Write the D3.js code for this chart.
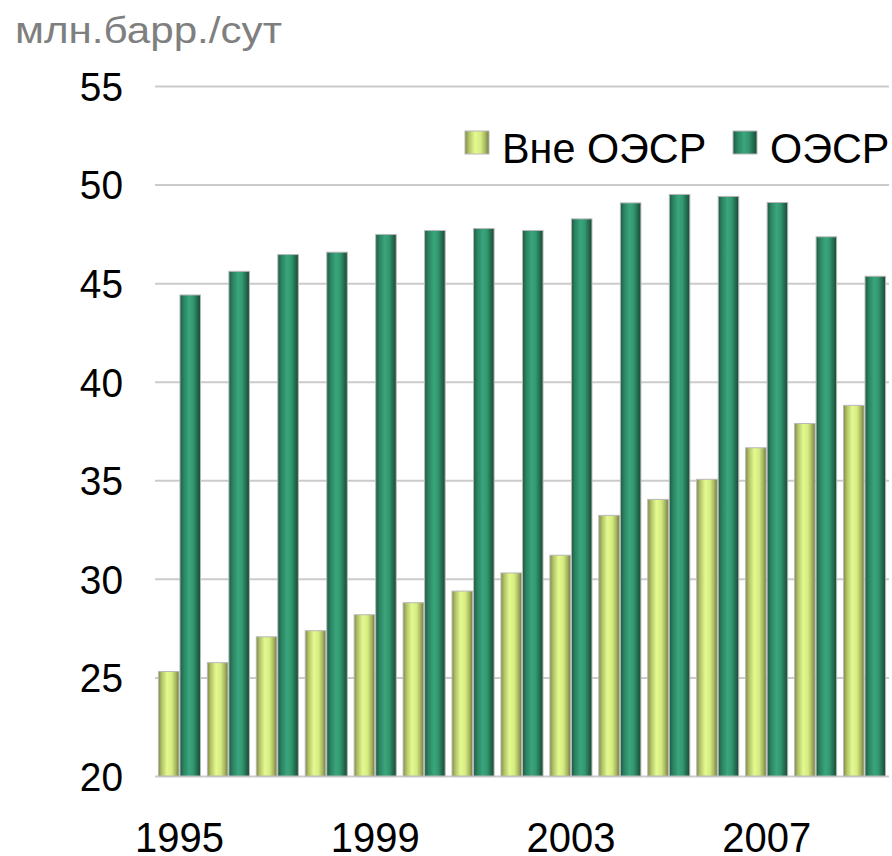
<!DOCTYPE html>
<html><head><meta charset="utf-8">
<script src="https://cdn.jsdelivr.net/npm/d3@7"></script>
<style>html,body{margin:0;padding:0;background:#fff;}svg{display:block;}</style>
</head><body>
<script>
const years = [1995,1996,1997,1998,1999,2000,2001,2002,2003,2004,2005,2006,2007,2008,2009];
const nonOECD = [25.3,25.75,27.06,27.37,28.18,28.79,29.38,30.3,31.2,33.22,34.03,35.05,36.65,37.88,38.8];
const OECD = [44.4,45.6,46.45,46.57,47.47,47.67,47.77,47.67,48.26,49.07,49.5,49.4,49.09,47.35,45.35];
const seriesNames = ["Вне ОЭСР","ОЭСР"];
const yTicks = [20,25,30,35,40,45,50,55];
const xTickLabels = ["1995","1999","2003","2007"];
const unitLabel = "млн.барр./сут";

const W = 892, H = 856;
const FONT = "Liberation Sans, Arial, sans-serif";
const svg = d3.select("body").append("svg").attr("width",W).attr("height",H);
const defs = svg.append("defs");
function grad(id, stops){
  const g = defs.append("linearGradient").attr("id",id).attr("x1","0%").attr("x2","100%").attr("y1","0%").attr("y2","0%");
  stops.forEach(s=>g.append("stop").attr("offset",s[0]).attr("stop-color",s[1]));
}
grad("gLight",[["0%","#7e8a44"],["15%","#b0bf66"],["42%","#e3fa8f"],["65%","#d6ec82"],["85%","#a6b55f"],["100%","#727b3c"]]);
grad("gDark",[["0%","#1d5841"],["18%","#2b8361"],["45%","#3aa57e"],["65%","#33986f"],["85%","#226a4e"],["100%","#194833"]]);
const fills = ["url(#gLight)","url(#gDark)"];

const y = d3.scaleLinear().domain([20,55]).range([776,86]);
const x0 = d3.scaleBand().domain(years).range([155,889]).paddingInner(0.12).paddingOuter(0.06);
const x1 = d3.scaleBand().domain(seriesNames).range([0,x0.bandwidth()]);

// gridlines + y labels
const yAxis = d3.axisLeft(y).tickValues(yTicks).tickSize(-(889-155)).tickPadding(0).tickFormat(d3.format("d"));
const ga = svg.append("g").attr("transform","translate(155,0)").call(yAxis);
ga.select(".domain").remove();
ga.selectAll(".tick line").attr("stroke","#cbcbcb").attr("stroke-width",2);
ga.selectAll(".tick text").attr("font-family",FONT).attr("font-size",40).attr("fill","#000")
  .attr("x",null).attr("dy","0.36em")
  .attr("transform","translate(-32,0) scale(0.97,1)").attr("text-anchor","end");

// bars
const data = years.map((yr,i)=>({year:yr, vals:[nonOECD[i],OECD[i]]}));
const groups = svg.append("g").selectAll("g").data(data).join("g")
  .attr("transform",d=>`translate(${x0(d.year)},0)`);
groups.selectAll("rect").data(d=>d.vals.map((v,k)=>({v,k}))).join("rect")
  .attr("x",d=>x1(seriesNames[d.k])+0.5)
  .attr("width",x1.bandwidth()-1)
  .attr("y",d=>y(d.v))
  .attr("height",d=>y(20)-y(d.v))
  .attr("fill",d=>fills[d.k])
  .attr("stroke","#b8b8b8").attr("stroke-width",1);

// x axis labels
const xAxis = d3.axisBottom(x0).tickValues(xTickLabels.map(Number)).tickSize(0).tickPadding(0);
const gx = svg.append("g").attr("transform","translate(0,776)").call(xAxis);
gx.select(".domain").remove();
gx.selectAll(".tick text").attr("font-family",FONT).attr("font-size",43).attr("fill","#000")
  .attr("y",null).attr("dy",null)
  .attr("transform","translate(0,76) scale(0.93,1)")
  .attr("text-anchor","middle");

// unit label
svg.append("text").attr("x",15).attr("y",43).attr("font-family",FONT)
  .attr("font-size",36).attr("fill","#7f7f7f")
  .attr("textLength",267).attr("lengthAdjust","spacingAndGlyphs").text(unitLabel);

// legend
const legX = [465,733];
const leg = svg.append("g");
seriesNames.forEach((n,k)=>{
  leg.append("rect").attr("x",legX[k]).attr("y",131).attr("width",24).attr("height",23)
    .attr("fill",fills[k]).attr("stroke","#b8b8b8").attr("stroke-width",1);
  leg.append("text").attr("transform",`translate(${legX[k]+37},163) scale(0.985,1)`)
    .attr("font-family",FONT).attr("font-size",42).attr("fill","#000").text(n);
});
</script>
</body></html>
